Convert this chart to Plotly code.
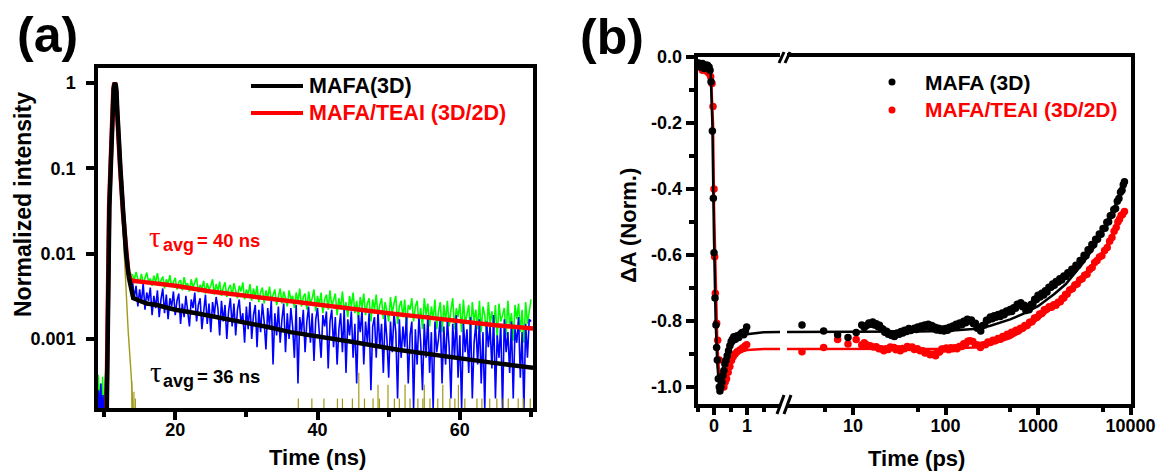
import plotly.graph_objects as go

W, H = 1166, 473
FONT = "Liberation Sans"

# ---------------- Panel (a) data : TRPL ----------------
FIT_BLACK_T = [10.37, 10.47, 10.6, 10.75, 10.94, 11.1, 11.2, 11.35, 11.45, 11.55, 11.65, 11.75, 11.85,
               12.05, 12.3, 12.7, 13.1, 13.5, 13.9, 14.1, 15.0, 16.0, 17.4, 20.0, 23.0, 26.8, 30.0,
               33.0, 36.2, 40.0, 45.0, 51.5, 55.0, 60.0, 65.0, 70.3]
FIT_BLACK_V = [1.2e-4, 1e-3, 0.01, 0.035, 0.1, 0.3, 0.55, 0.85, 0.96, 1.0, 0.95, 0.8, 0.5,
               0.22, 0.1, 0.03, 0.01, 0.0052, 0.0035, 0.0030, 0.0028, 0.0026, 0.0025, 0.0022, 0.0020,
               0.00175, 0.00155, 0.00138, 0.0012, 0.00108, 0.00092, 0.00074, 0.00067, 0.00059,
               0.00052, 0.00046]
FIT_RED_T = [10.33, 10.43, 10.56, 10.71, 10.9, 11.06, 11.16, 11.31, 11.41, 11.51, 11.61, 11.71, 11.81,
             12.01, 12.26, 12.66, 13.06, 13.4, 13.7, 14.0, 16.0, 20.0, 25.0, 30.0, 36.2, 40.0, 45.0,
             50.0, 55.0, 60.0, 65.0, 70.3]
FIT_RED_V = [1.2e-4, 1e-3, 0.01, 0.035, 0.1, 0.3, 0.55, 0.85, 0.96, 1.0, 0.95, 0.8, 0.5,
             0.22, 0.1, 0.03, 0.01, 0.006, 0.005, 0.0048, 0.0046, 0.0042, 0.0036, 0.0032, 0.0027,
             0.0025, 0.0022, 0.0020, 0.0018, 0.0016, 0.00145, 0.00132]

# raw decays: pre-pulse + peak part
GREEN_HEAD_T = [9.05, 9.2, 9.35, 9.5, 9.65, 9.8, 9.95, 10.1, 10.4, 10.6, 10.9, 11.2, 11.5, 11.8, 12.1,
                12.4, 12.8, 13.1, 13.4, 13.7]
GREEN_HEAD_V = [1e-4, 3.8e-4, 1e-4, 3.0e-4, 1e-4, 3.6e-4, 1e-4, 2.5e-4, 1e-3, 0.012, 0.1, 0.6, 1.0,
                0.6, 0.2, 0.08, 0.025, 0.011, 0.0065, 0.0058]
BLUE_HEAD_T = [9.1, 9.25, 9.4, 9.55, 9.7, 9.85, 10.0, 10.4, 10.6, 10.9, 11.2, 11.5, 11.8, 12.1, 12.4,
               12.8, 13.1, 13.4, 13.7]
BLUE_HEAD_V = [1e-4, 2.5e-4, 1e-4, 3.0e-4, 1e-4, 2.2e-4, 1e-4, 1e-3, 0.012, 0.1, 0.6, 1.0, 0.6, 0.2,
               0.08, 0.025, 0.011, 0.006, 0.0052]

# raw decays: tail, one channel every 0.25 ns (values x 1e-3)
TAIL_T = [14.0, 14.25, 14.5, 14.75, 15.0, 15.25, 15.5, 15.75, 16.0, 16.25, 16.5, 16.75, 17.0, 17.25,
          17.5, 17.75, 18.0, 18.25, 18.5, 18.75, 19.0, 19.25, 19.5, 19.75, 20.0, 20.25, 20.5, 20.75,
          21.0, 21.25, 21.5, 21.75, 22.0, 22.25, 22.5, 22.75, 23.0, 23.25, 23.5, 23.75, 24.0, 24.25,
          24.5, 24.75, 25.0, 25.25, 25.5, 25.75, 26.0, 26.25, 26.5, 26.75, 27.0, 27.25, 27.5, 27.75,
          28.0, 28.25, 28.5, 28.75, 29.0, 29.25, 29.5, 29.75, 30.0, 30.25, 30.5, 30.75, 31.0, 31.25,
          31.5, 31.75, 32.0, 32.25, 32.5, 32.75, 33.0, 33.25, 33.5, 33.75, 34.0, 34.25, 34.5, 34.75,
          35.0, 35.25, 35.5, 35.75, 36.0, 36.25, 36.5, 36.75, 37.0, 37.25, 37.5, 37.75, 38.0, 38.25,
          38.5, 38.75, 39.0, 39.25, 39.5, 39.75, 40.0, 40.25, 40.5, 40.75, 41.0, 41.25, 41.5, 41.75,
          42.0, 42.25, 42.5, 42.75, 43.0, 43.25, 43.5, 43.75, 44.0, 44.25, 44.5, 44.75, 45.0, 45.25,
          45.5, 45.75, 46.0, 46.25, 46.5, 46.75, 47.0, 47.25, 47.5, 47.75, 48.0, 48.25, 48.5, 48.75,
          49.0, 49.25, 49.5, 49.75, 50.0, 50.25, 50.5, 50.75, 51.0, 51.25, 51.5, 51.75, 52.0, 52.25,
          52.5, 52.75, 53.0, 53.25, 53.5, 53.75, 54.0, 54.25, 54.5, 54.75, 55.0, 55.25, 55.5, 55.75,
          56.0, 56.25, 56.5, 56.75, 57.0, 57.25, 57.5, 57.75, 58.0, 58.25, 58.5, 58.75, 59.0, 59.25,
          59.5, 59.75, 60.0, 60.25, 60.5, 60.75, 61.0, 61.25, 61.5, 61.75, 62.0, 62.25, 62.5, 62.75,
          63.0, 63.25, 63.5, 63.75, 64.0, 64.25, 64.5, 64.75, 65.0, 65.25, 65.5, 65.75, 66.0, 66.25,
          66.5, 66.75, 67.0, 67.25, 67.5, 67.75, 68.0, 68.25, 68.5, 68.75, 69.0, 69.25, 69.5, 69.75,
          70.0]
GREEN_TAIL_E3 = [5.6, 4.9, 6.1, 5.0, 4.6, 5.8, 4.4, 5.3, 6.0, 4.7, 5.1, 4.2, 5.5, 4.6, 5.9, 4.3,
                 4.9, 5.4, 3.9, 5.0, 4.4, 5.6, 4.1, 4.7, 5.2, 3.8, 4.6, 4.9, 3.7, 5.3, 4.2, 4.5,
                 3.6, 5.0, 4.0, 4.6, 5.2, 3.5, 4.3, 3.9, 4.8, 3.4, 4.5, 3.8, 4.2, 5.0, 3.3, 4.4,
                 3.6, 4.7, 3.2, 4.0, 4.6, 3.1, 3.9, 4.3, 3.2, 4.5, 3.5, 3.0, 4.2, 3.6, 4.6, 2.9,
                 3.8, 3.3, 4.4, 2.8, 3.9, 3.1, 4.2, 2.7, 3.5, 4.0, 2.6, 3.7, 3.0, 4.1, 2.8, 3.4,
                 3.8, 2.5, 3.3, 3.9, 2.6, 3.6, 3.0, 2.4, 3.7, 2.9, 3.2, 2.3, 3.5, 2.7, 3.9, 2.4,
                 3.1, 3.4, 2.2, 3.6, 2.6, 3.0, 3.8, 2.1, 3.2, 2.5, 3.5, 2.0, 2.9, 3.3, 2.2, 3.7,
                 2.4, 2.8, 3.4, 1.9, 3.0, 2.3, 3.6, 2.1, 2.7, 1.8, 3.2, 2.4, 3.5, 2.0, 2.8, 1.7,
                 3.1, 2.3, 3.4, 1.9, 2.6, 3.0, 1.6, 2.9, 2.2, 3.3, 1.8, 2.5, 3.0, 1.7, 2.7, 2.1,
                 1.6, 3.1, 2.0, 2.6, 3.2, 1.5, 2.4, 2.8, 1.8, 2.9, 1.4, 2.5, 2.2, 3.0, 1.6, 2.4,
                 2.8, 1.5, 2.3, 1.3, 3.0, 1.9, 2.6, 1.4, 2.4, 1.7, 2.9, 1.3, 2.1, 2.7, 1.2, 2.5,
                 1.6, 2.8, 1.4, 2.2, 3.0, 1.3, 2.3, 1.8, 2.6, 1.2, 2.9, 1.5, 2.0, 2.5, 1.1, 2.7,
                 1.6, 2.2, 1.3, 2.8, 1.2, 2.4, 1.9, 1.1, 2.7, 1.5, 2.1, 1.3, 2.5, 1.0, 2.6, 1.6,
                 1.9, 2.3, 1.1, 2.8, 1.4, 2.0, 0.95, 2.5, 1.7, 2.6, 1.2, 2.2, 0.9, 2.7, 1.5, 2.0,
                 2.9]
BLUE_TAIL_E3 = [4.8, 3.0, 4.2, 2.4, 3.8, 2.6, 4.5, 2.2, 3.5, 2.8, 4.0, 1.9, 3.2, 2.3, 3.7, 1.8,
                2.9, 3.9, 2.0, 3.3, 1.7, 3.0, 2.4, 3.6, 1.9, 2.8, 3.4, 1.5, 2.6, 1.8, 3.2, 2.1,
                1.4, 2.9, 2.3, 3.5, 1.6, 2.5, 3.0, 1.3, 2.2, 3.3, 1.5, 2.6, 1.2, 2.7, 1.9, 3.1,
                2.3, 1.1, 2.8, 1.6, 2.5, 1.0, 2.1, 3.0, 1.4, 2.6, 1.1, 2.2, 2.9, 1.5, 2.0, 0.9,
                2.4, 1.3, 2.7, 1.0, 1.9, 2.5, 0.8, 2.2, 1.2, 2.6, 1.6, 0.75, 2.3, 1.4, 2.8, 0.5,
                2.0, 1.1, 2.4, 0.9, 1.7, 2.6, 0.7, 2.0, 1.0, 2.3, 1.4, 0.6, 2.5, 0.3, 1.8, 1.2,
                2.2, 0.7, 1.6, 2.4, 0.9, 2.0, 0.55, 1.7, 2.3, 1.1, 0.6, 1.9, 1.4, 2.1, 0.45, 1.6,
                2.2, 0.8, 1.8, 0.5, 1.3, 2.0, 0.7, 2.3, 0.4, 1.7, 1.1, 2.1, 0.6, 1.5, 0.3, 1.9,
                1.2, 2.2, 0.5, 1.6, 0.9, 2.0, 0.25, 1.4, 1.8, 0.6, 2.1, 0.8, 1.5, 0.4, 1.9, 1.0,
                0.35, 1.6, 0.7, 2.0, 1.2, 0.2, 1.7, 0.6, 1.4, 0.8, 1.9, 0.3, 1.1, 1.6, 0.15, 1.3,
                0.5, 1.8, 0.9, 0.25, 1.5, 0.6, 1.9, 0.4, 1.2, 0.15, 1.6, 0.7, 1.0, 1.8, 0.3, 1.4,
                0.5, 1.7, 0.8, 0.2, 1.5, 0.6, 1.9, 0.35, 1.1, 0.15, 1.6, 0.7, 1.3, 0.4, 1.8, 0.2,
                0.9, 1.5, 0.5, 1.7, 0.3, 1.2, 0.15, 1.6, 0.8, 1.4, 0.45, 1.9, 0.2, 1.1, 0.6, 1.5,
                0.15, 1.7, 0.7, 1.2, 0.4, 1.6, 0.2, 1.3, 0.9, 1.8, 0.35, 1.2, 0.15, 1.5, 0.6, 1.7,
                1.6]

# instrument response (olive)
IRF_T = [10.2, 10.36, 10.45, 10.58, 10.92, 11.15, 11.35, 11.5, 11.65, 11.8, 12.0, 12.25, 12.5, 12.7,
         13.0, 13.4, 13.8, 14.1]
IRF_V = [1e-4, 1.6e-4, 1e-3, 0.01, 0.1, 0.5, 0.9, 1.0, 0.9, 0.5, 0.2, 0.08, 0.035, 0.0145,
         0.005, 1.2e-3, 3.9e-4, 1.3e-4]
IRF_SPIKE_T = [13.9, 14.2, 14.4, 37.3, 39.2, 40.9, 42.8, 43.5, 44.9, 45.8, 46.6, 47.8, 48.5, 48.7,
               49.9, 50.8, 51.5, 52.3, 53.0, 54.1, 54.8, 55.0, 55.8, 56.9, 57.6, 58.6, 59.3, 59.8,
               60.7, 62.4, 63.1, 64.2, 65.2, 66.1, 66.8, 68.2, 68.9, 69.9]
IRF_SPIKE_V = [3.2e-4, 2.4e-4, 2.0e-4, 2.0e-4, 2.0e-4, 2.0e-4, 2.0e-4, 2.0e-4, 2.0e-4, 4.0e-4,
               2.0e-4, 2.0e-4, 2.9e-4, 2.0e-4, 2.9e-4, 2.0e-4, 2.0e-4, 2.9e-4, 2.0e-4, 2.0e-4,
               2.0e-4, 2.9e-4, 2.0e-4, 2.0e-4, 2.9e-4, 2.0e-4, 2.0e-4, 2.9e-4, 2.0e-4, 2.0e-4,
               2.0e-4, 2.0e-4, 2.0e-4, 2.0e-4, 2.0e-4, 2.0e-4, 2.0e-4, 2.0e-4]
ZERO_COUNT = 1e-5  # channels with no counts (below the visible range)

# ---------------- Panel (b) data : TA kinetics ----------------
LIN_BLACK_T = [-0.45, -0.40, -0.35, -0.30, -0.25, -0.20, -0.15, -0.12, -0.09, -0.05, -0.02, 0.0, 0.03,
               0.06, 0.08, 0.10, 0.13, 0.16, 0.18, 0.21, 0.24, 0.27, 0.30, 0.33, 0.36, 0.40, 0.44,
               0.48, 0.52, 0.56, 0.60, 0.65, 0.70, 0.75, 0.80, 0.85, 0.90, 0.95, 0.99]
LIN_BLACK_V = [-0.02, -0.03, -0.02, -0.035, -0.03, -0.025, -0.03, -0.04, -0.075, -0.224, -0.428,
               -0.593, -0.730, -0.812, -0.88, -0.918, -0.975, -1.0, -1.012, -1.0, -0.985, -0.965,
               -0.95, -0.93, -0.92, -0.905, -0.89, -0.875, -0.862, -0.855, -0.848, -0.855, -0.845,
               -0.85, -0.84, -0.835, -0.842, -0.83, -0.818]
LIN_RED_T = [-0.45, -0.40, -0.35, -0.30, -0.25, -0.20, -0.15, -0.10, -0.06, -0.03, 0.0, 0.02, 0.04,
             0.08, 0.11, 0.16, 0.20, 0.23, 0.26, 0.30, 0.34, 0.38, 0.43, 0.48, 0.53, 0.58, 0.64,
             0.70, 0.78, 0.86, 0.94, 0.99]
LIN_RED_V = [-0.03, -0.025, -0.04, -0.03, -0.035, -0.045, -0.05, -0.06, -0.08, -0.15, -0.40, -0.605,
             -0.716, -0.807, -0.858, -0.918, -0.96, -0.979, -0.995, -1.0, -0.985, -0.975, -0.955,
             -0.938, -0.92, -0.908, -0.90, -0.893, -0.888, -0.882, -0.876, -0.872]
LOG_BLACK_T = [2.8, 4.8, 6.8, 8.8, 10.8, 12.4, 13.2, 14, 14.8, 15.5, 16.3, 17, 17.8, 18.5, 19.3, 20,
               21, 22, 23, 24, 25, 26, 27, 28, 29, 30, 31.5, 33, 34.5, 36, 38, 40, 42, 44, 46, 48, 50,
               52, 54.5, 57, 59.5, 62, 65, 68, 71, 74, 77, 80, 84, 88, 92, 96, 100, 105, 110, 115,
               120, 125, 130, 135, 142, 150, 157, 165, 172, 180, 190, 200, 210, 220, 230, 240, 252,
               265, 277, 290, 305, 320, 335, 350, 370, 390, 410, 430, 455, 480, 500, 520, 545, 570,
               595, 620, 650, 680, 710, 740, 770, 800, 840, 880, 920, 960, 1000, 1050, 1100, 1150,
               1200, 1250, 1310, 1380, 1440, 1500, 1570, 1650, 1720, 1800, 1900, 2000, 2100, 2200,
               2320, 2450, 2570, 2700, 2850, 3000, 3150, 3300, 3480, 3650, 3820, 4000, 4200, 4400,
               4600, 4800, 5050, 5300, 5550, 5800, 6050, 6300, 6600, 6900, 7200, 7500, 7800, 8100,
               8350, 8600]
LOG_BLACK_V = [-0.812, -0.830, -0.842, -0.850, -0.835, -0.812, -0.820, -0.814, -0.806, -0.810,
               -0.803, -0.812, -0.808, -0.817, -0.813, -0.822, -0.824, -0.834, -0.831, -0.840,
               -0.838, -0.844, -0.839, -0.847, -0.840, -0.836, -0.840, -0.832, -0.836, -0.828,
               -0.832, -0.823, -0.829, -0.826, -0.822, -0.826, -0.818, -0.821, -0.815, -0.819,
               -0.812, -0.816, -0.810, -0.818, -0.814, -0.823, -0.819, -0.827, -0.822, -0.829,
               -0.824, -0.830, -0.823, -0.828, -0.819, -0.823, -0.815, -0.818, -0.810, -0.815,
               -0.806, -0.811, -0.801, -0.805, -0.795, -0.800, -0.797, -0.808, -0.807, -0.822,
               -0.820, -0.830, -0.814, -0.812, -0.798, -0.797, -0.788, -0.793, -0.784, -0.789,
               -0.780, -0.786, -0.776, -0.781, -0.770, -0.773, -0.765, -0.771, -0.760, -0.761,
               -0.749, -0.750, -0.745, -0.757, -0.752, -0.768, -0.759, -0.766, -0.750, -0.748,
               -0.734, -0.735, -0.722, -0.727, -0.716, -0.721, -0.708, -0.712, -0.698, -0.698,
               -0.688, -0.692, -0.680, -0.682, -0.672, -0.676, -0.664, -0.665, -0.654, -0.656,
               -0.643, -0.644, -0.631, -0.632, -0.617, -0.616, -0.601, -0.602, -0.584, -0.584,
               -0.568, -0.569, -0.552, -0.552, -0.536, -0.537, -0.520, -0.519, -0.501, -0.499,
               -0.481, -0.479, -0.462, -0.459, -0.437, -0.429, -0.410, -0.404, -0.387, -0.378]
LOG_RED_T = [2.8, 4.8, 6.8, 8.8, 10.8, 12.4, 13.2, 14, 15.3, 16.6, 17.8, 19, 20.2, 21.5, 22.7, 24,
             25.2, 26.4, 27.7, 29, 30.7, 32.4, 34, 36, 38.5, 41, 43.5, 46, 49.5, 53, 56.5, 60, 64,
             68, 73, 78, 82, 86, 91, 96, 102, 108, 114, 120, 126, 133, 141, 150, 157, 165, 174, 184,
             197, 210, 224, 238, 254, 270, 287, 305, 325, 345, 368, 391, 415, 440, 465, 490, 518,
             546, 578, 610, 645, 680, 720, 762, 810, 860, 915, 977, 1040, 1100, 1170, 1250, 1320,
             1400, 1480, 1560, 1650, 1740, 1820, 1900, 1980, 2065, 2200, 2350, 2500, 2650, 2820,
             3000, 3190, 3390, 3610, 3850, 4100, 4350, 4620, 4900, 5250, 5600, 5950, 6300, 6650,
             7000, 7300, 7600, 7900, 8200, 8600]
LOG_RED_V = [-0.893, -0.880, -0.856, -0.870, -0.856, -0.873, -0.866, -0.872, -0.875, -0.879,
             -0.878, -0.884, -0.884, -0.890, -0.884, -0.886, -0.879, -0.880, -0.880, -0.887,
             -0.884, -0.890, -0.883, -0.884, -0.877, -0.880, -0.879, -0.886, -0.884, -0.890,
             -0.890, -0.897, -0.896, -0.902, -0.900, -0.905, -0.895, -0.894, -0.885, -0.885,
             -0.882, -0.887, -0.881, -0.884, -0.881, -0.884, -0.877, -0.877, -0.869, -0.870,
             -0.861, -0.860, -0.862, -0.872, -0.873, -0.880, -0.872, -0.872, -0.864, -0.865,
             -0.858, -0.860, -0.853, -0.855, -0.847, -0.847, -0.840, -0.842, -0.834, -0.834,
             -0.828, -0.830, -0.822, -0.822, -0.814, -0.814, -0.804, -0.802, -0.791, -0.789,
             -0.779, -0.777, -0.766, -0.764, -0.757, -0.758, -0.751, -0.752, -0.743, -0.742,
             -0.732, -0.730, -0.720, -0.718, -0.706, -0.702, -0.691, -0.688, -0.676, -0.672,
             -0.661, -0.658, -0.644, -0.638, -0.623, -0.617, -0.606, -0.602, -0.586, -0.577,
             -0.558, -0.547, -0.528, -0.517, -0.500, -0.492, -0.480, -0.477, -0.468]
# fits
LINFIT_BLACK_T = [-0.5, -0.15, -0.1, -0.05, 0.0, 0.05, 0.1, 0.15, 0.2, 0.3, 0.4, 0.5, 0.7, 1.0, 1.5, 2.0]
LINFIT_BLACK_V = [-0.01, -0.02, -0.05, -0.2, -0.55, -0.8, -0.93, -0.99, -0.99, -0.95, -0.91, -0.88,
                  -0.855, -0.84, -0.834, -0.833]
LINFIT_RED_T = [-0.5, -0.15, -0.1, -0.03, 0.0, 0.05, 0.1, 0.15, 0.2, 0.25, 0.3, 0.4, 0.5, 0.7, 1.0, 1.5, 2.0]
LINFIT_RED_V = [-0.02, -0.03, -0.04, -0.2, -0.45, -0.72, -0.87, -0.95, -0.99, -1.0, -0.99, -0.955,
                -0.925, -0.897, -0.888, -0.885, -0.885]
LOGFIT_BLACK_T = [1.9, 5, 10, 20, 50, 100, 200, 300, 500, 700, 1000, 1500, 2000, 3000, 4000, 5000,
                  6000, 7000, 8000, 8600]
LOGFIT_BLACK_V = [-0.833, -0.833, -0.833, -0.833, -0.832, -0.830, -0.824, -0.815, -0.795, -0.778,
                  -0.755, -0.718, -0.688, -0.628, -0.578, -0.530, -0.485, -0.443, -0.405, -0.385]
LOGFIT_RED_T = [1.9, 5, 10, 20, 50, 100, 200, 300, 500, 700, 1000, 1600, 2300, 3600, 5200, 6800, 8600]
LOGFIT_RED_V = [-0.885, -0.885, -0.885, -0.885, -0.885, -0.884, -0.880, -0.872, -0.852, -0.828,
                -0.795, -0.748, -0.702, -0.643, -0.585, -0.522, -0.468]

# ---------------- colours ----------------
C_GREEN, C_BLUE, C_OLIVE, C_RED, C_BLACK = "#00ff00", "#0000ff", "#a09a18", "#ff0000", "#000000"


def pxx(p):
    return p / W


def pxy(p):
    return 1 - p / H


fig = go.Figure()

# ---- panel (a) traces ----
fig.add_trace(go.Scatter(x=GREEN_HEAD_T + TAIL_T, y=GREEN_HEAD_V + [v * 1e-3 for v in GREEN_TAIL_E3],
                         mode="lines", line=dict(color=C_GREEN, width=1.6), xaxis="x", yaxis="y"))
fig.add_trace(go.Scatter(x=BLUE_HEAD_T + TAIL_T, y=BLUE_HEAD_V + [v * 1e-3 for v in BLUE_TAIL_E3],
                         mode="lines", line=dict(color=C_BLUE, width=1.6), xaxis="x", yaxis="y"))
fig.add_trace(go.Scatter(x=IRF_T, y=IRF_V, mode="lines", line=dict(color=C_OLIVE, width=1.4),
                         xaxis="x", yaxis="y"))
sx, sy = [], []
for t, v in zip(IRF_SPIKE_T, IRF_SPIKE_V):
    sx += [t, t, None]
    sy += [ZERO_COUNT, v, None]
fig.add_trace(go.Scatter(x=sx, y=sy, mode="lines", line=dict(color=C_OLIVE, width=1.2),
                         connectgaps=False, xaxis="x", yaxis="y"))
fig.add_trace(go.Scatter(x=FIT_RED_T, y=FIT_RED_V, mode="lines", line=dict(color=C_RED, width=4.5),
                         xaxis="x", yaxis="y"))
fig.add_trace(go.Scatter(x=FIT_BLACK_T, y=FIT_BLACK_V, mode="lines", line=dict(color=C_BLACK, width=4.5),
                         xaxis="x", yaxis="y"))

# ---- panel (b) traces ----
mk = dict(size=7.5)
fig.add_trace(go.Scatter(x=LIN_RED_T, y=LIN_RED_V, mode="markers", marker=dict(color=C_RED, **mk),
                         xaxis="x2", yaxis="y2", cliponaxis=False))
fig.add_trace(go.Scatter(x=LOG_RED_T, y=LOG_RED_V, mode="markers", marker=dict(color=C_RED, **mk),
                         xaxis="x3", yaxis="y3"))
fig.add_trace(go.Scatter(x=LINFIT_RED_T, y=LINFIT_RED_V, mode="lines", line=dict(color=C_RED, width=2.5),
                         xaxis="x2", yaxis="y2"))
fig.add_trace(go.Scatter(x=LOGFIT_RED_T, y=LOGFIT_RED_V, mode="lines", line=dict(color=C_RED, width=2.5),
                         xaxis="x3", yaxis="y3"))
fig.add_trace(go.Scatter(x=LIN_BLACK_T, y=LIN_BLACK_V, mode="markers", marker=dict(color=C_BLACK, **mk),
                         xaxis="x2", yaxis="y2", cliponaxis=False))
fig.add_trace(go.Scatter(x=LOG_BLACK_T, y=LOG_BLACK_V, mode="markers", marker=dict(color=C_BLACK, **mk),
                         xaxis="x3", yaxis="y3"))
fig.add_trace(go.Scatter(x=LINFIT_BLACK_T, y=LINFIT_BLACK_V, mode="lines",
                         line=dict(color=C_BLACK, width=2.5), xaxis="x2", yaxis="y2"))
fig.add_trace(go.Scatter(x=LOGFIT_BLACK_T, y=LOGFIT_BLACK_V, mode="lines",
                         line=dict(color=C_BLACK, width=2.5), xaxis="x3", yaxis="y3"))

# ---- axes ----
TICKFONT = dict(family=FONT, size=18, color="black", weight="bold")
base = dict(showline=True, linecolor="black", linewidth=3.5, ticks="outside", ticklen=8, tickwidth=3.5,
            tickcolor="black", showgrid=False, zeroline=False, tickfont=TICKFONT, automargin=False)
minor = dict(ticks="outside", ticklen=5, tickwidth=3.5, tickcolor="black", showgrid=False)

A_X, A_Y = (98, 533), (68, 408)
B_Y = (57, 403.5)
B_LIN, B_LOG = (697.5, 780), (787, 1130.5)

fig.update_layout(
    width=W, height=H, margin=dict(l=0, r=0, t=0, b=0), showlegend=False,
    paper_bgcolor="white", plot_bgcolor="white",
    xaxis=dict(base, domain=[pxx(A_X[0]), pxx(A_X[1])], range=[9.15, 70.28], anchor="y", mirror=True,
               tickvals=[20, 40, 60], ticktext=["20", "40", "60"], ticklabelstandoff=-5,
               minor=dict(minor, tickvals=[10, 30, 50, 70])),
    yaxis=dict(base, type="log", domain=[pxy(A_Y[1]), pxy(A_Y[0])], range=[-3.81, 0.176], anchor="x",
               mirror=True, tickvals=[1, 0.1, 0.01, 0.001], ticktext=["1", "0.1", "0.01", "0.001"],
               ticklabelstandoff=7),
    xaxis2=dict(base, domain=[pxx(B_LIN[0]), pxx(B_LIN[1])], range=[-0.5, 2.0], anchor="y2", mirror=True,
                tickvals=[0, 1], ticktext=["0", "1"], ticklabelstandoff=-5,
                minor=dict(minor, tickvals=[-0.5, 0.5, 1.5])),
    yaxis2=dict(base, domain=[pxy(B_Y[1]), pxy(B_Y[0])], range=[-1.05, 0.0], anchor="x2",
                tickvals=[0, -0.2, -0.4, -0.6, -0.8, -1.0],
                ticktext=["0.0", "-0.2", "-0.4", "-0.6", "-0.8", "-1.0"],
                minor=dict(minor, tickvals=[-0.1, -0.3, -0.5, -0.7, -0.9])),
    xaxis3=dict(base, type="log", domain=[pxx(B_LOG[0]), pxx(B_LOG[1])], range=[0.285, 4.0], anchor="y3",
                mirror=True, tickvals=[10, 100, 1000, 10000], ticktext=["10", "100", "1000", "10000"],
                ticklabelstandoff=-5, minor=dict(minor, tickvals=[5, 50, 500, 5000])),
    yaxis3=dict(base, domain=[pxy(B_Y[1]), pxy(B_Y[0])], range=[-1.05, 0.0], anchor="x3", side="right",
                ticks="", showticklabels=False),
)

# ---- annotations ----
ann = []


def text(x, y, s, size, color="black", bold=True, xanchor="center", angle=0, family=FONT):
    ann.append(dict(x=pxx(x), y=pxy(y), xref="paper", yref="paper", text=s, showarrow=False,
                    xanchor=xanchor, yanchor="middle", textangle=angle,
                    font=dict(family=family, size=size, color=color, weight="bold" if bold else "normal")))


text(47, 35, "(a)", 50)
text(612, 37, "(b)", 50)
text(23, 205, "Normalized intensity", 23, angle=-90)
text(317, 457, "Time (ns)", 22)
text(628, 225, "ΔA (Norm.)", 22, angle=-90)
text(916, 458, "Time (ps)", 22)
# legend (a)
text(307, 86, "MAFA(3D)", 21.5, xanchor="left")
text(307, 113, "MAFA/TEAI (3D/2D)", 21.5, color=C_RED, xanchor="left")
# legend (b)
text(923, 82.5, "MAFA (3D)", 21, xanchor="left")
text(923, 110, "MAFA/TEAI (3D/2D)", 21, color=C_RED, xanchor="left")
# lifetimes
text(147, 237, "τ", 29, color=C_RED, bold=False, xanchor="left", family="Liberation Serif")
text(161, 245, "avg", 18, color=C_RED, xanchor="left")
text(195, 240, "= 40 ns", 18.5, color=C_RED, xanchor="left")
text(148, 372, "τ", 29, color=C_BLACK, bold=False, xanchor="left", family="Liberation Serif")
text(161, 381, "avg", 18, color=C_BLACK, xanchor="left")
text(195, 376, "= 36 ns", 18.5, color=C_BLACK, xanchor="left")
fig.update_layout(annotations=ann)

# ---- shapes: legend samples and axis-break marks ----
shapes = [
    dict(type="line", xref="paper", yref="paper", x0=pxx(251), x1=pxx(303), y0=pxy(86), y1=pxy(86),
         line=dict(color=C_BLACK, width=4)),
    dict(type="line", xref="paper", yref="paper", x0=pxx(251), x1=pxx(303), y0=pxy(113), y1=pxy(113),
         line=dict(color=C_RED, width=4)),
    dict(type="circle", xref="paper", yref="paper", x0=pxx(888.5), x1=pxx(895.5), y0=pxy(85.5),
         y1=pxy(78.5), fillcolor=C_BLACK, line=dict(width=0)),
    dict(type="circle", xref="paper", yref="paper", x0=pxx(888.5), x1=pxx(895.5), y0=pxy(113.5),
         y1=pxy(106.5), fillcolor=C_RED, line=dict(width=0)),
]
for (xa, ya, xb, yb) in [(779, 63, 784, 52), (785, 63, 790, 52), (777, 414, 784, 395), (784, 414, 791, 395)]:
    shapes.append(dict(type="line", xref="paper", yref="paper", x0=pxx(xa), y0=pxy(ya), x1=pxx(xb),
                       y1=pxy(yb), line=dict(color="black", width=3)))
fig.update_layout(shapes=shapes)

fig.write_html("out.html")
